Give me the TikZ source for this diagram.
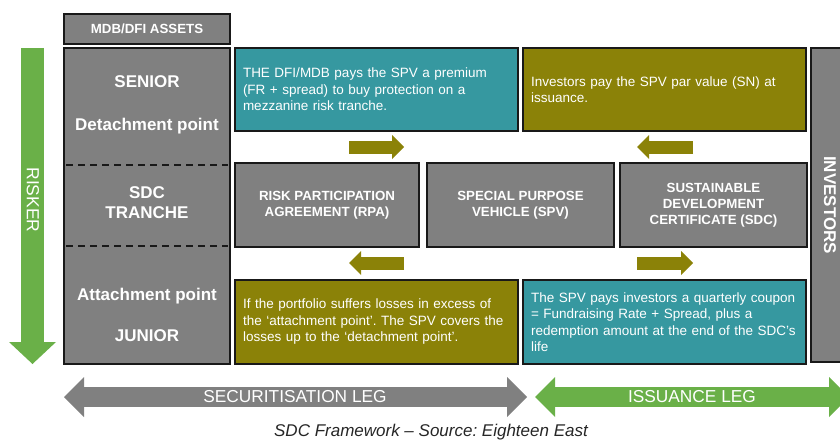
\documentclass[tikz,border=0pt]{standalone}
\usepackage{fontspec}
\setmainfont{Liberation Sans}
\usetikzlibrary{arrows.meta}
\frenchspacing
\definecolor{boxgray}{RGB}{128,128,128}
\definecolor{sdcteal}{RGB}{54,152,160}
\definecolor{sdcolive}{RGB}{139,130,8}
\definecolor{riskgreen}{RGB}{106,176,72}
\definecolor{leggray}{RGB}{128,128,128}

\tikzset{
  grbox/.style={draw=black!90, line width=1.6pt, fill=boxgray, text=white, inner sep=0pt, align=center},
  notebox/.style={draw=black!90, line width=1.6pt, text=white, minimum width=283pt, minimum height=83pt,
    inner sep=8pt, text width=267pt, align=left, font=\fontsize{13.5}{16.5}\selectfont},
  capsbold/.style={font=\bfseries\fontsize{13.3}{16}\selectfont},
  tlabel/.style={text=white, font=\bfseries\fontsize{17}{20}\selectfont, align=center},
  flow/.style={draw=sdcolive, line width=13pt, -{Triangle[length=12pt,width=24pt,line width=0pt]}},
  leg/.style={line width=20pt, {Triangle[length=20pt,width=40pt,line width=0pt]}-{Triangle[length=20pt,width=40pt,line width=0pt]}},
  legtxt/.style={text=white, font=\fontsize{17.3}{20}\selectfont}
}

\begin{document}
\begin{tikzpicture}[x=1pt, y=-1pt]
\useasboundingbox (0,0) rectangle (840,441);

% risk runs from senior down to junior
\coordinate (risktop) at (32.5,48);
\coordinate (riskbot) at (32.5,364);
\draw[draw=riskgreen, line width=23pt, -{Triangle[length=22pt,width=47pt,line width=0pt]}] (risktop) -- (riskbot);
\node[rotate=-90, text=white, font=\fontsize{17.5}{20}\selectfont] (risker) at (33,200) {RISKER};

% tranche column
\node[grbox, capsbold, minimum width=166pt, minimum height=30pt] (assets) at (147,29) {MDB/DFI ASSETS};
\node[grbox, line width=2.2pt, minimum width=166pt, minimum height=316pt] (tranche) at (147,206) {};
\draw[black!90, line width=1.4pt, dash pattern=on 7pt off 5pt] (66,165) -- (228,165);
\draw[black!90, line width=1.4pt, dash pattern=on 7pt off 5pt] (66,246) -- (228,246);
\node[tlabel] (senior) at (147,82) {SENIOR};
\node[tlabel] (detach) at (147,126) {Detachment point};
\node[tlabel] (sdctr) at (147,203) {SDC\\TRANCHE};
\node[tlabel] (attach) at (147,296) {Attachment point};
\node[tlabel] (junior) at (147,336) {JUNIOR};

% payments
\node[notebox, fill=sdcteal] (premium) at (376.5,89.5) {THE DFI/MDB pays the SPV a premium\\(FR + spread) to buy protection on a\\mezzanine risk tranche.};
\node[notebox, fill=sdcolive] (parval) at (664.5,89.5) {Investors pay the SPV par value (SN) at\\issuance.};
\node[notebox, fill=sdcolive, minimum height=84pt] (losses) at (376.5,322) {If the portfolio suffers losses in excess of\\the `attachment point'. The SPV covers the\\losses up to the `detachment point'.};
\node[notebox, fill=sdcteal, minimum height=84pt] (coupon) at (664.5,322) {The SPV pays investors a quarterly coupon\\= Fundraising Rate + Spread, plus a\\redemption amount at the end of the SDC's\\life};

% parties
\node[grbox, capsbold, minimum width=184pt, minimum height=84pt] (rpa) at (327,205) {RISK PARTICIPATION\\AGREEMENT (RPA)};
\node[grbox, capsbold, minimum width=187pt, minimum height=84pt] (spv) at (520.5,205) {SPECIAL PURPOSE\\VEHICLE (SPV)};
\node[grbox, capsbold, minimum width=187pt, minimum height=84pt] (sdc) at (713.5,205) {SUSTAINABLE\\DEVELOPMENT\\CERTIFICATE (SDC)};
\node[grbox, rotate=-90, minimum width=314pt, minimum height=38pt, font=\bfseries\fontsize{17}{20}\selectfont] (investors) at (830,205) {INVESTORS};

% cash flow arrows
\coordinate (f1a) at (349,147); \coordinate (f1b) at (404,147);
\coordinate (f2a) at (693,147); \coordinate (f2b) at (637,147);
\coordinate (f3a) at (404,263); \coordinate (f3b) at (349,263);
\coordinate (f4a) at (637,263); \coordinate (f4b) at (693,263);
\draw[flow] (f1a) -- (f1b);
\draw[flow] (f2a) -- (f2b);
\draw[flow] (f3a) -- (f3b);
\draw[flow] (f4a) -- (f4b);

% legs
\coordinate (secl) at (64,397); \coordinate (secr) at (527,397);
\coordinate (issl) at (535,397); \coordinate (issr) at (849,397);
\draw[leg, draw=leggray] (secl) -- (secr);
\draw[leg, draw=riskgreen] (issl) -- (issr);
\node[legtxt] (seclabel) at (295,397) {SECURITISATION LEG};
\node[legtxt] (isslabel) at (692,397) {ISSUANCE LEG};

\node[anchor=base, text=black!85, font=\itshape\fontsize{17}{20}\selectfont] (caption) at (431,436.5) {SDC Framework -- Source: Eighteen East};
\end{tikzpicture}
\end{document}
